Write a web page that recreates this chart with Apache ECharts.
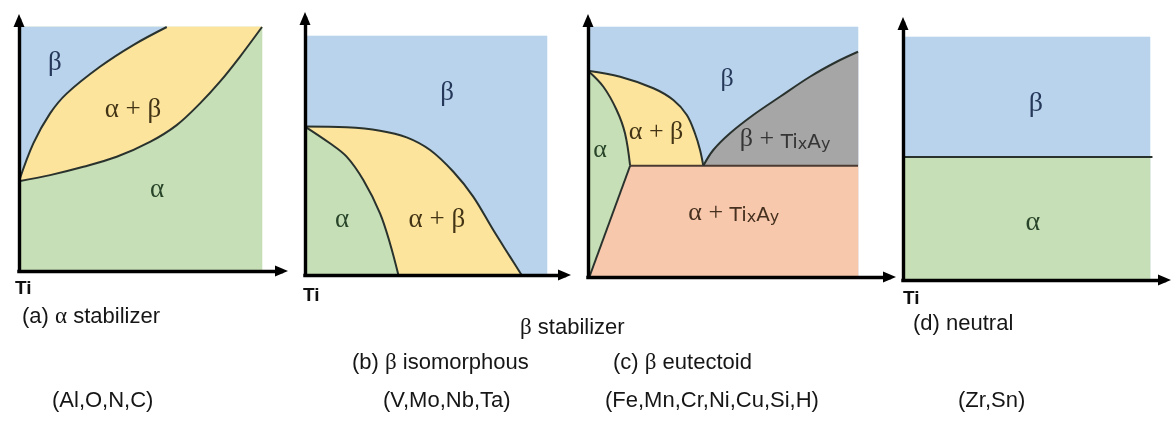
<!DOCTYPE html>
<html>
<head>
<meta charset="utf-8">
<script src="https://cdn.jsdelivr.net/npm/echarts@6/dist/echarts.min.js"></script>
<style>
  html, body { margin: 0; padding: 0; background: #ffffff; }
  #chart { width: 1172px; height: 423px; }
</style>
</head>
<body>
<div id="chart"></div>
<script>
// Phase boundaries, composition (x) vs temperature (y), each frame spans 0–100 on both axes.

// (a) α stabilizer
const aBetaTransus  = [[0,36.8],[5.9,52.3],[12.8,64.6],[19.6,72.7],[33.3,83.7],[47.0,92.6],[60.8,100]];
const aAlphaTransus = [[0,36.8],[12.8,39.3],[26.5,42.7],[40.2,46.8],[53.9,52.9],[64.9,59.8],[74.5,68.7],[82.7,77.6],[90.9,87.8],[100,100]];

// (b) β isomorphous
const bBetaTransus  = [[0,62.1],[17.2,61.8],[31.0,60.4],[42.0,57.6],[51.7,52.3],[61.3,43.2],[69.5,32.8],[77.8,18.8],[84.7,7.7],[89.5,0]];
const bAlphaTransus = [[0,62.1],[10.3,55.1],[17.2,49.5],[24.1,39.7],[31.0,25.8],[35.1,13.3],[38.6,0]];

// (c) β eutectoid
const cBetaTransus  = [[0,82.5],[11.9,80.1],[24.2,75.5],[31.6,70.8],[36.6,64.8],[39.6,57.5],[41.5,50.8],[42.7,44.5]];
const cAlphaTransus = [[0,82.5],[5.7,76.1],[10.6,66.8],[13.7,57.5],[15.6,44.5]];
const cEutectoid    = [[15.6,44.5],[100,44.5]];
const cAlphaSolvus  = [[15.6,44.5],[0.5,0]];
const cBetaSolvus   = [[42.7,44.5],[46.4,50.8],[52.6,57.5],[61.2,64.8],[71.1,72.1],[82.2,80.1],[92.1,86.1],[100,90.1]];

// (d) neutral
const dTransus = [[0,50.6],[100,50.6]];

// Phase-field labels: [x, y, phase]
const aLabels = [[14.8,85.2,'β'],[46.9,65.9,'α + β'],[56.8,33.1,'α']];
const bLabels = [[58.7,76.2,'β'],[15.3,23.0,'α'],[54.5,23.0,'α + β']];
const cLabels = [[51.5,79.0,'β'],[25.2,58.0,'α + β'],[4.5,50.8,'α'],[73.0,55.0,'β + TixAy'],[54.0,25.6,'α + TixAy']];
const dLabels = [[53.8,72.4,'β'],[52.6,23.5,'α']];

// Captions under the frames
const captionTexts = ['(a) α stabilizer','β stabilizer','(b) β isomorphous','(c) β eutectoid','(d) neutral',
                      '(Al,O,N,C)','(V,Mo,Nb,Ta)','(Fe,Mn,Cr,Ni,Cu,Si,H)','(Zr,Sn)'];

// ---- styling / layout ----
const COL = { beta:'#b9d3ec', alpha:'#c6dfb6', mix:'#fde49c', gray:'#a6a6a6', salmon:'#f7c8ac' };
const LINE = '#2a322e';
// frame geometry in px: origin, field width/height, arrow tips
const frames = [
  { ox:19,  oy:271, w:243, h:244, tx:288,  ty:14 },
  { ox:305, oy:275, w:242, h:239, tx:571,  ty:12 },
  { ox:588, oy:277, w:270, h:250, tx:896,  ty:14 },
  { ox:903, oy:280, w:247, h:243, tx:1171, ty:17 }
];
const ARROW = 13;

const grids = [], xAxes = [], yAxes = [];
frames.forEach((f, i) => {
  const endX = f.tx - ARROW / 2, endY = f.ty + ARROW / 2;
  grids.push({ left: f.ox, top: endY, width: endX - f.ox, height: f.oy - endY });
  const axisLine = { show:true, onZero:false, symbol:['none','triangle'], symbolSize:[11, ARROW],
                     lineStyle:{ color:'#000', width:3.4, cap:'square' } };
  xAxes.push({ gridIndex:i, type:'value', min:0, max:100 * (endX - f.ox) / f.w, z:10,
               axisLine, axisTick:{show:false}, axisLabel:{show:false}, splitLine:{show:false} });
  yAxes.push({ gridIndex:i, type:'value', min:0, max:100 * (f.oy - endY) / f.h, z:10,
               axisLine, axisTick:{show:false}, axisLabel:{show:false}, splitLine:{show:false} });
});

const rev = a => a.slice().reverse();
const FIELD = [[0,0],[100,0],[100,100],[0,100]];

function region(gi, pts, color) {
  return {
    type:'custom', xAxisIndex:gi, yAxisIndex:gi, silent:true, z:1, clip:false,
    data: pts,
    renderItem(params, api) {
      if (params.dataIndex !== 0) return null;
      return { type:'polygon', shape:{ points: pts.map(p => api.coord(p)) },
               style:{ fill: color, stroke: color, lineWidth: 0.6 } };
    }
  };
}
function boundary(gi, pts, color) {
  return {
    type:'line', xAxisIndex:gi, yAxisIndex:gi, data: pts, smooth: pts.length > 2 ? 0.35 : false,
    showSymbol:false, silent:true, z:3, clip:false,
    lineStyle:{ color: color || LINE, width:2 }
  };
}

const phaseColor = { 'β':'#26385a', 'α':'#28452a', 'α + β':'#423415', 'β + TixAy':'#353535', 'α + TixAy':'#46301f' };
function labelText(t) {
  if (t.indexOf('TixAy') >= 0) {
    const head = t.replace('TixAy', '');
    return '{g|' + head + '}{s|Ti}{sub|x}{s|A}{sub|y}';
  }
  return '{g|' + t + '}';
}
function labels(gi, list, size) {
  return {
    type:'custom', xAxisIndex:gi, yAxisIndex:gi, silent:true, z:6, clip:false,
    data: list.map(l => [l[0], l[1]]),
    renderItem(params, api) {
      const l = list[params.dataIndex];
      const p = api.coord([l[0], l[1]]);
      const c = phaseColor[l[2]];
      return { type:'text', x:p[0], y:p[1], style:{
        text: labelText(l[2]), align:'center', verticalAlign:'middle',
        rich:{
          g:  { fontFamily:'Liberation Serif', fontSize:size, fill:c, verticalAlign:'middle' },
          s:  { fontFamily:'DejaVu Sans', fontSize:20, fill:c, verticalAlign:'bottom' },
          sub:{ fontFamily:'DejaVu Sans', fontSize:16, fill:c, verticalAlign:'bottom', padding:[4,0,0,0] }
        }
      } };
    }
  };
}

const series = [
  // (a)
  region(0, FIELD, COL.alpha),
  region(0, aBetaTransus.concat(rev(aAlphaTransus)), COL.mix),
  region(0, aBetaTransus.concat([[0,100]]), COL.beta),
  boundary(0, aBetaTransus), boundary(0, aAlphaTransus),
  labels(0, aLabels, 27),
  // (b)
  region(1, FIELD, COL.beta),
  region(1, bBetaTransus.concat(rev(bAlphaTransus)), COL.mix),
  region(1, bAlphaTransus.concat([[0,0]]), COL.alpha),
  boundary(1, bBetaTransus), boundary(1, bAlphaTransus),
  labels(1, bLabels, 27),
  // (c)
  region(2, FIELD, COL.beta),
  region(2, cBetaSolvus.concat([[100,44.5]]), COL.gray),
  region(2, cEutectoid.concat([[100,0]], rev(cAlphaSolvus).slice(0,1)), COL.salmon),
  region(2, cAlphaTransus.concat(cAlphaSolvus.slice(1), [[0,0]]), COL.alpha),
  region(2, cBetaTransus.concat(rev(cAlphaTransus)), COL.mix),
  boundary(2, cBetaTransus), boundary(2, cAlphaTransus), boundary(2, cEutectoid, '#4a3a32'),
  boundary(2, cAlphaSolvus), boundary(2, cBetaSolvus),
  labels(2, cLabels, 26),
  // (d)
  region(3, FIELD, COL.beta),
  region(3, [[0,0],[100,0]].concat(rev(dTransus)), COL.alpha),
  boundary(3, [[0,50.6],[101,50.6]]),
  labels(3, dLabels, 28)
];

// Caption text blocks
const SANS = 'Liberation Sans';
function caption(left, cy, t) {
  const parts = t.split(/([αβ])/).filter(s => s.length);
  const rich = { t:{ fontFamily:SANS, fontSize:22, fill:'#161616' },
                 gr:{ fontFamily:'Liberation Serif', fontSize:23, fill:'#161616' } };
  const txt = parts.map(p => (p === 'α' || p === 'β') ? '{gr|' + p + '}' : '{t|' + p + '}').join('');
  return { type:'text', left: left, top: cy - 13, silent:true, style:{ text: txt, rich } };
}
function tiMark(left, cy) {
  return { type:'text', left: left, top: cy - 11, silent:true,
           style:{ text:'Ti', font:'bold 19px "Liberation Sans"', fill:'#111' } };
}
const capPos = [[22,318],[520,329],[352,364],[613,364],[913,326],[52,403],[383,403],[605,403],[958,403]];
const graphic = [tiMark(15,290), tiMark(303,297), tiMark(903,300)]
  .concat(captionTexts.map((t, i) => caption(capPos[i][0], capPos[i][1], t)));

const chart = echarts.init(document.getElementById('chart'), null, { renderer:'canvas' });
chart.setOption({
  animation:false,
  backgroundColor:'#ffffff',
  grid: grids, xAxis: xAxes, yAxis: yAxes,
  series, graphic
});
</script>
</body>
</html>
